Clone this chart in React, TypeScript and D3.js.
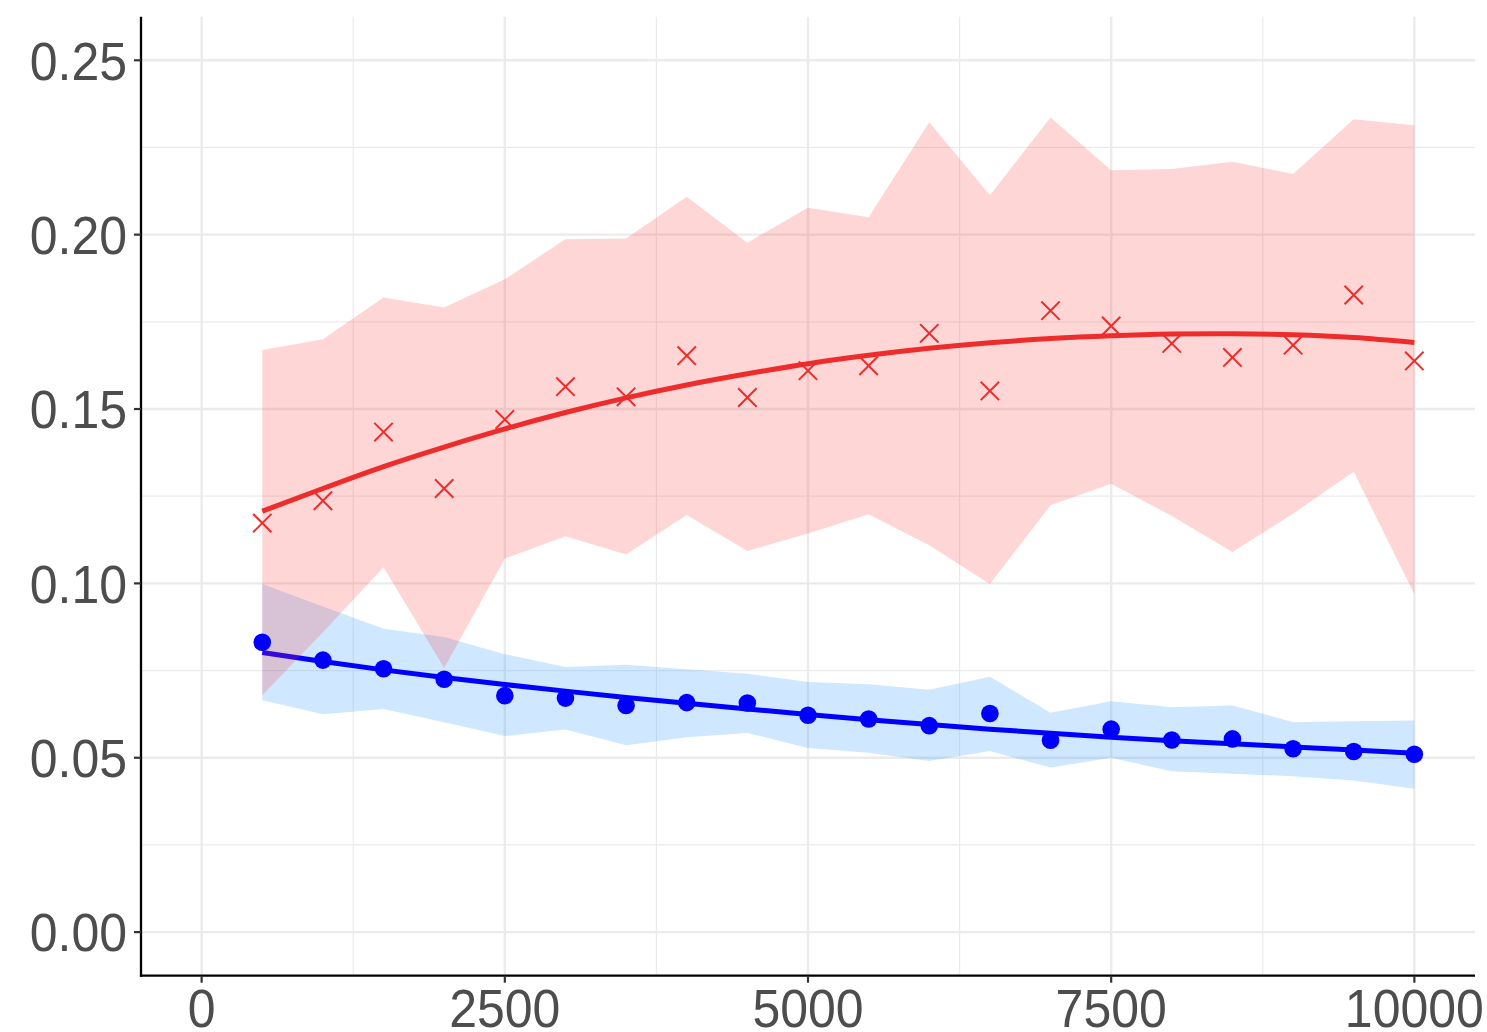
import React from 'react'
import * as d3 from 'd3'

// x positions of the samples
const steps = [500, 1000, 1500, 2000, 2500, 3000, 3500, 4000, 4500, 5000, 5500, 6000, 6500, 7000, 7500, 8000, 8500, 9000, 9500, 10000]

// red series (crosses)
const redPoints = [0.1173, 0.1237, 0.1434, 0.1272, 0.147, 0.1564, 0.1535, 0.1653, 0.1533, 0.161, 0.1624, 0.1717, 0.1552, 0.1782, 0.1738, 0.1688, 0.1648, 0.1683, 0.1827, 0.1638]
const redUpper = [0.1669, 0.17, 0.182, 0.1791, 0.1872, 0.1987, 0.1989, 0.2109, 0.1977, 0.2077, 0.205, 0.2322, 0.2113, 0.2336, 0.2185, 0.2188, 0.2209, 0.2174, 0.2331, 0.2314]
const redLower = [0.0679, 0.086, 0.1046, 0.0757, 0.1071, 0.1135, 0.1083, 0.1196, 0.1093, 0.1143, 0.1198, 0.1109, 0.0998, 0.1224, 0.1286, 0.1193, 0.109, 0.12, 0.132, 0.0969]
const redSmooth = [0.1207, 0.1272, 0.1335, 0.1391, 0.1443, 0.149, 0.1532, 0.1569, 0.1601, 0.163, 0.1654, 0.1674, 0.169, 0.1702, 0.171, 0.1715, 0.1716, 0.1713, 0.1705, 0.1691]

// blue series (dots)
const bluePoints = [0.0831, 0.078, 0.0755, 0.0725, 0.0678, 0.0671, 0.065, 0.0658, 0.0657, 0.0622, 0.0611, 0.0592, 0.0627, 0.055, 0.0582, 0.0551, 0.0554, 0.0526, 0.0518, 0.051]
const blueUpper = [0.0998, 0.0934, 0.087, 0.0846, 0.0797, 0.076, 0.0767, 0.0754, 0.0741, 0.0717, 0.0711, 0.0695, 0.0732, 0.0629, 0.0662, 0.0645, 0.065, 0.0602, 0.0605, 0.0607]
const blueLower = [0.0665, 0.0625, 0.064, 0.0602, 0.0562, 0.0581, 0.0536, 0.0559, 0.0571, 0.0528, 0.0514, 0.0491, 0.0519, 0.0472, 0.05, 0.0461, 0.0454, 0.0447, 0.0435, 0.0411]
const blueSmooth = [0.0802, 0.0776, 0.0752, 0.073, 0.071, 0.0691, 0.0673, 0.0656, 0.064, 0.0624, 0.0609, 0.0595, 0.0582, 0.057, 0.0559, 0.0549, 0.054, 0.0531, 0.0522, 0.0513]

// axis ticks
const xTicks = [0, 2500, 5000, 7500, 10000]
const xMinor = [1250, 3750, 6250, 8750]
const yTicks = [0, 0.05, 0.1, 0.15, 0.2, 0.25]
const yMinor = [0.025, 0.075, 0.125, 0.175, 0.225]

const W = 1487
const H = 1032
const panel = { left: 141, right: 1475, top: 16.7, bottom: 975.7 }

const RED = '#EE2C2C'
const BLUE = '#0000FF'

export default function App() {
	const x = d3.scaleLinear().domain([-500, 10500]).range([panel.left, panel.right])
	const y = d3.scaleLinear().domain([-0.0125, 0.2625]).range([panel.bottom, panel.top])

	const band = (lo: number[], hi: number[]) =>
		d3
			.area<number>()
			.x((_, i) => x(steps[i]))
			.y0((_, i) => y(lo[i]))
			.y1((_, i) => y(hi[i]))
			.curve(d3.curveLinear)(lo) as string

	const smooth = (vals: number[]) =>
		d3
			.line<number>()
			.x((_, i) => x(steps[i]))
			.y(d => y(d))
			.curve(d3.curveNatural)(vals) as string

	const font = '"Liberation Sans", Arial, Helvetica, sans-serif'
	const s = 9.2 // half size of the crosses

	return (
		<svg width={W} height={H} style={{ position: 'absolute', left: 0, top: 0, background: '#fff' }}>
			{/* grid */}
			<g>
				{yMinor.map(v => (
					<line key={'ym' + v} x1={panel.left} x2={panel.right} y1={y(v)} y2={y(v)} stroke="#ebebeb" strokeWidth={1.2} />
				))}
				{xMinor.map(v => (
					<line key={'xm' + v} x1={x(v)} x2={x(v)} y1={panel.top} y2={panel.bottom} stroke="#ebebeb" strokeWidth={1.2} />
				))}
				{yTicks.map(v => (
					<line key={'yg' + v} x1={panel.left} x2={panel.right} y1={y(v)} y2={y(v)} stroke="#ebebeb" strokeWidth={2.4} />
				))}
				{xTicks.map(v => (
					<line key={'xg' + v} x1={x(v)} x2={x(v)} y1={panel.top} y2={panel.bottom} stroke="#ebebeb" strokeWidth={2.4} />
				))}
			</g>

			{/* blue ribbon + fit */}
			<path d={band(blueLower, blueUpper)} fill="#1E90FF" fillOpacity={0.21} />
			<path d={smooth(blueSmooth)} fill="none" stroke={BLUE} strokeWidth={5} />

			{/* red ribbon + fit */}
			<path d={band(redLower, redUpper)} fill="#FF3030" fillOpacity={0.2} />
			<path d={smooth(redSmooth)} fill="none" stroke={RED} strokeWidth={5} />

			{/* points */}
			{bluePoints.map((v, i) => (
				<circle key={'b' + i} cx={x(steps[i])} cy={y(v)} r={8.8} fill={BLUE} />
			))}
			{redPoints.map((v, i) => (
				<path
					key={'r' + i}
					transform={`translate(${x(steps[i])},${y(v)})`}
					d={`M${-s},${-s}L${s},${s}M${-s},${s}L${s},${-s}`}
					stroke={RED}
					strokeWidth={2}
					fill="none"
				/>
			))}

			{/* axes */}
			<line x1={panel.left} x2={panel.left} y1={panel.top} y2={panel.bottom + 1.1} stroke="#000" strokeWidth={2.3} />
			<line x1={panel.left - 1.1} x2={panel.right} y1={panel.bottom} y2={panel.bottom} stroke="#000" strokeWidth={2.3} />

			{yTicks.map(v => (
				<g key={'yt' + v}>
					<line x1={panel.left - 7} x2={panel.left} y1={y(v)} y2={y(v)} stroke="#333" strokeWidth={2.2} />
					<text
						transform={`translate(127,${y(v) + 19.3}) scale(1,1.07)`}
						textAnchor="end"
						fontFamily={font}
						fontSize={50}
						fill="#4d4d4d"
					>
						{d3.format('.2f')(v)}
					</text>
				</g>
			))}
			{xTicks.map(v => (
				<g key={'xt' + v}>
					<line x1={x(v)} x2={x(v)} y1={panel.bottom} y2={panel.bottom + 7} stroke="#333" strokeWidth={2.2} />
					<text
						transform={`translate(${x(v)},1026.5) scale(1,1.07)`}
						textAnchor="middle"
						fontFamily={font}
						fontSize={50}
						fill="#4d4d4d"
					>
						{v}
					</text>
				</g>
			))}
		</svg>
	)
}
